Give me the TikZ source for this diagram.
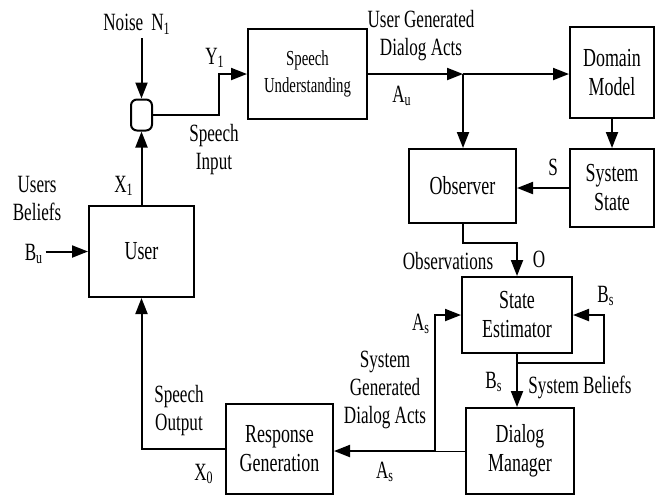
\documentclass[tikz,border=0pt]{standalone}
\usepackage{fontspec}
\setmainfont{Liberation Serif}[FakeStretch=0.69]
\usetikzlibrary{arrows.meta, positioning, calc}

\begin{document}
\begin{tikzpicture}[
    x=0.5pt, y=-0.5pt,
    block/.style={draw, line width=1pt, align=center, inner sep=1pt,
        font=\fontsize{13}{14.5}\selectfont},
    lbl/.style={align=center, inner sep=1pt, font=\fontsize{12.4}{14}\selectfont},
    sumj/.style={draw, line width=1pt, rounded corners=3pt, minimum width=10.5pt, minimum height=15.5pt, inner sep=0pt},
    arrow/.style={-{Triangle[length=8pt, width=6pt]}, line width=1pt}
]
    \useasboundingbox (0,0) rectangle (656,495);

    % Blocks
    \node[block, minimum width=59.5pt, minimum height=45pt, font=\fontsize{10.7}{13.5}\selectfont] (su) at (307.5,74) {Speech\\Understanding};
    \node[block, minimum width=42pt, minimum height=45.5pt] (dm) at (612,72.5) {Domain\\Model};
    \node[block, minimum width=42pt, minimum height=39pt] (ss) at (612,188) {System\\State};
    \node[block, minimum width=53.5pt, minimum height=37pt] (obs) at (462.5,186) {Observer};
    \node[block, minimum width=52.5pt, minimum height=45.5pt] (user) at (141.5,251.5) {User};
    \node[block, minimum width=55pt, minimum height=38pt] (se) at (517,315) {State\\Estimator};
    \node[block, minimum width=54pt, minimum height=43pt] (dmgr) at (520,451) {Dialog\\Manager};
    \node[block, minimum width=53.5pt, minimum height=45pt] (rg) at (279.5,449) {Response\\Generation};

    % Summing junction
    \node[sumj] (sum) at (141.5,115) {};

    % Labels
    \node[lbl] (n1) at (137,24) {Noise\hspace{4pt}N\textsubscript{1}};
    \node[lbl] (y1) at (215,58) {Y\textsubscript{1}};
    \node[lbl] (spin) at (214,150) {Speech\\Input};
    \node[lbl] (x1) at (124,186) {X\textsubscript{1}};
    \node[lbl] (ub) at (37,198) {Users\\Beliefs};
    \node[lbl] (bu) at (34,254) {B\textsubscript{u}};
    \node[lbl] (uga) at (421,36) {User Generated\\Dialog Acts};
    \node[lbl] (au) at (402,96) {A\textsubscript{u}};
    \node[lbl] (s) at (553,167) {S};
    \node[lbl] (obsv) at (448,261) {Observations};
    \node[lbl] (o) at (539,259) {O};
    \node[lbl] (bs1) at (606,296) {B\textsubscript{s}};
    \node[lbl] (as1) at (421,324) {A\textsubscript{s}};
    \node[lbl] (sga) at (385,390) {System\\Generated\\Dialog Acts};
    \node[lbl] (bs2) at (494,382) {B\textsubscript{s}};
    \node[lbl] (sbel) at (580,387) {System Beliefs};
    \node[lbl] (as2) at (385,472) {A\textsubscript{s}};
    \node[lbl] (x0) at (204,474) {X\textsubscript{0}};
    \node[lbl] (spout) at (179,411) {Speech\\Output};

    % Bend points
    \coordinate (nz) at (141.5,38);
    \coordinate (ybend) at (219,74);
    \coordinate (ua) at (463,74);
    \coordinate (bs) at (604,315);
    \coordinate (sa) at (435,451);

    % User side
    \draw[arrow] (nz) -- (sum.north);
    \draw[arrow] (user.north) -- (sum.south);
    \draw[arrow] (sum.east) -| (ybend) -- (su.west);
    \draw[arrow] (bu.east |- user.west) -- (user.west);

    % User dialog acts
    \draw[arrow] (su.east) -- (ua);
    \draw[arrow] (ua) -- (ua -| dm.west);
    \draw[arrow] (ua) -- (ua |- obs.north);
    \draw[arrow] (dm.south) -- (ss.north);
    \draw[arrow] (ss.west) -- (ss.west -| obs.east);

    % Observations and beliefs
    \draw[arrow] (obs.south) -- ++(0,19) -| (se.north);
    \draw[arrow] (se.south) -- (se.south |- dmgr.north);
    \draw[arrow] ($(se.south)+(0,9)$) -| (bs) -- (se.east);

    % System dialog acts
    \draw (dmgr.west) -- (sa);
    \draw[arrow] (sa) -- (sa -| rg.east);
    \draw[arrow] (sa) |- (se.west);
    \draw[arrow] (rg.west) -| (user.south);

\end{tikzpicture}
\end{document}
